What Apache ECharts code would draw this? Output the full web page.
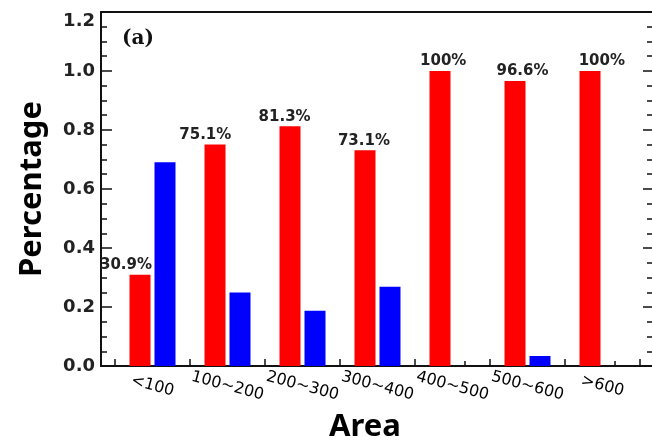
<!DOCTYPE html>
<html>
<head>
<meta charset="utf-8">
<script src="https://cdn.jsdelivr.net/npm/echarts@6/dist/echarts.min.js"></script>
<style>
  html, body { margin: 0; padding: 0; background: #fff; }
  #chart { width: 652px; height: 441px; }
</style>
</head>
<body>
<div id="chart"></div>
<script>
// ---- data ----
var categories = ['<100', '100~200', '200~300', '300~400', '400~500', '500~600', '>600'];
var redValues  = [0.309, 0.751, 0.813, 0.731, 1.000, 0.966, 1.000];
var blueValues = [0.691, 0.249, 0.187, 0.269, 0.000, 0.034, 0.000];
var yTicks = { min: 0, max: 1.2, interval: 0.2 };
var xLabel = 'Area';
var yLabel = 'Percentage';
var panelTag = '(a)';

var chart = echarts.init(document.getElementById('chart'), null, { renderer: 'canvas' });

var axisColor = '#111';
var tickFont = { fontFamily: 'DejaVu Sans', fontWeight: 'bold', fontSize: 18, color: '#222' };

var option = {
  backgroundColor: '#fff',
  animation: false,
  grid: [
    { left: 101, right: 0, top: 12, bottom: 75 },   // frame grid
    { left: 115, right: 12, top: 12, bottom: 75 }   // bar grid
  ],
  xAxis: [
    { // bottom frame line
      gridIndex: 0, type: 'value', min: 0, max: 1, position: 'bottom',
      axisLine: { show: true, onZero: false, lineStyle: { color: axisColor, width: 2 } },
      axisTick: { show: false }, axisLabel: { show: false }, splitLine: { show: false }
    },
    { // top frame line
      gridIndex: 0, type: 'value', min: 0, max: 1, position: 'top',
      axisLine: { show: true, onZero: false, lineStyle: { color: axisColor, width: 2 } },
      axisTick: { show: false }, axisLabel: { show: false }, splitLine: { show: false }
    },
    { // category axis for the bars
      gridIndex: 1, type: 'category', data: categories, position: 'bottom',
      axisLine: { show: false, onZero: false },
      axisTick: { show: true, inside: true, length: 7, interval: 0, alignWithLabel: false,
                  lineStyle: { color: axisColor, width: 1.5 } },
      axisLabel: {
        interval: 0, rotate: -15, margin: 20, align: 'center', verticalAlign: 'middle',
        hideOverlap: false,
        fontFamily: 'DejaVu Sans', fontSize: 16, color: '#000'
      },
      splitLine: { show: false }
    },
    { // minor ticks along the bottom
      gridIndex: 1, type: 'value', min: 0, max: 21, interval: 3, position: 'bottom',
      axisLine: { show: false, onZero: false },
      axisTick: { show: false, inside: true },
      minorTick: { show: true, splitNumber: 3, length: 5, lineStyle: { color: axisColor, width: 1.5 } },
      axisLabel: { show: false }, splitLine: { show: false }, minorSplitLine: { show: false }
    }
  ],
  yAxis: [
    { // left axis with labels
      gridIndex: 0, type: 'value', position: 'left',
      min: yTicks.min, max: yTicks.max, interval: yTicks.interval,
      name: yLabel, nameLocation: 'middle', nameGap: 53,
      nameTextStyle: { fontFamily: 'Noto Sans', fontWeight: 'bold', fontSize: 31, color: '#000' },
      axisLine: { show: true, onZero: false, lineStyle: { color: axisColor, width: 2 } },
      axisTick: { show: true, inside: true, length: 11, lineStyle: { color: axisColor, width: 1.5 } },
      minorTick: { show: true, splitNumber: 4, length: 6, lineStyle: { color: axisColor, width: 1.5 } },
      axisLabel: {
        margin: 6,
        fontFamily: tickFont.fontFamily, fontWeight: tickFont.fontWeight,
        fontSize: tickFont.fontSize, color: tickFont.color,
        formatter: function (v) {
          var s = v.toFixed(1);
          return v >= yTicks.max - 1e-6 ? '{t|' + s + '}' : s;
        },
        rich: {
          t: { padding: [18, 0, 0, 0], fontFamily: tickFont.fontFamily, fontWeight: tickFont.fontWeight,
               fontSize: tickFont.fontSize, color: tickFont.color }
        }
      },
      splitLine: { show: false }, minorSplitLine: { show: false }
    },
    { // right axis ticks only
      gridIndex: 0, type: 'value', position: 'right',
      min: yTicks.min, max: yTicks.max, interval: yTicks.interval,
      axisLine: { show: false, onZero: false },
      axisTick: { show: true, inside: true, length: 9, lineStyle: { color: axisColor, width: 1.5 } },
      minorTick: { show: true, splitNumber: 4, length: 5, lineStyle: { color: axisColor, width: 1.5 } },
      axisLabel: { show: false }, splitLine: { show: false }, minorSplitLine: { show: false }
    },
    { // hidden value axis for the bars
      gridIndex: 1, type: 'value', min: yTicks.min, max: yTicks.max, interval: yTicks.interval,
      show: false, splitLine: { show: false }
    }
  ],
  series: [
    {
      name: 'red', type: 'bar', xAxisIndex: 2, yAxisIndex: 2,
      barWidth: 21, barGap: '19%',
      itemStyle: { color: '#ff0000' },
      data: redValues.map(function (v, i) {
        return { value: v, label: { offset: [-14 + 4.3 * i, 0] } };
      }),
      label: {
        show: true, position: 'top', distance: 2,
        fontFamily: 'DejaVu Sans', fontWeight: 'bold', fontSize: 15, color: '#222',
        formatter: function (p) { return (Math.round(p.value * 1000) / 10) + '%'; }
      },
      z: 3
    },
    {
      name: 'blue', type: 'bar', xAxisIndex: 2, yAxisIndex: 2,
      barWidth: 21, barGap: '19%',
      itemStyle: { color: '#0000ff' },
      data: blueValues,
      z: 3
    }
  ],
  graphic: [
    {
      type: 'text', left: 122, top: 29, z: 10,
      style: { text: panelTag, font: 'bold 20px "DejaVu Serif"', fill: '#111' }
    },
    {
      type: 'text', x: 365, y: 427, z: 10,
      style: { text: xLabel, font: 'bold 31px "Noto Sans"', fill: '#000',
               textAlign: 'center', textVerticalAlign: 'middle' }
    }
  ]
};

chart.setOption(option);
</script>
</body>
</html>
